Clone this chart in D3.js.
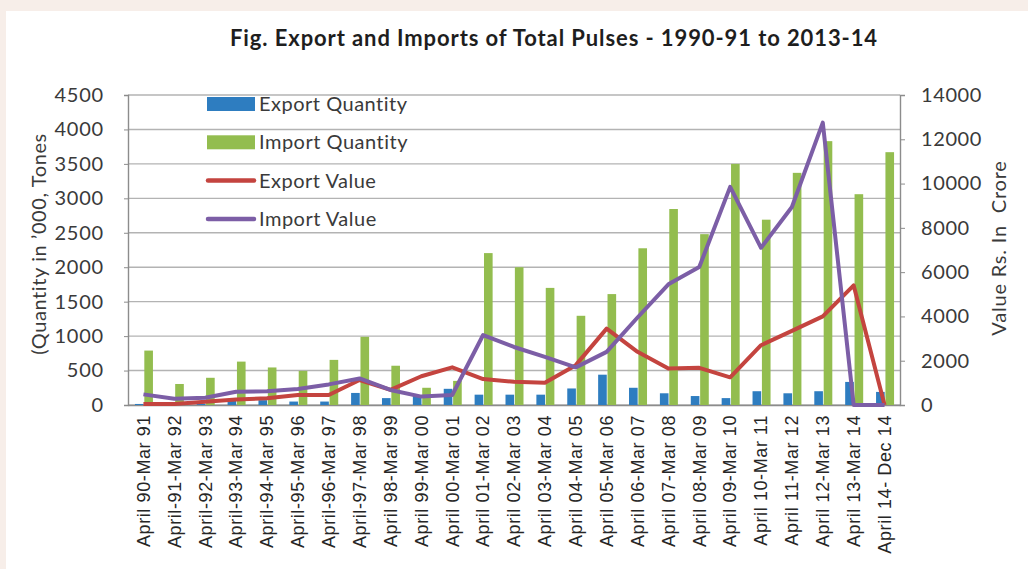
<!DOCTYPE html>
<html>
<head>
<meta charset="utf-8">
<script src="https://cdn.jsdelivr.net/npm/d3@7"></script>
<style>
  body { margin: 0; background: #fff; }
  svg { display: block; }
</style>
</head>
<body>
<div id="chart"></div>
<script>
var width = 1028,
    height = 569;

var periods = ["April 90-Mar 91", "April-91-Mar 92", "April-92-Mar 93", "April-93-Mar 94",
  "April-94-Mar 95", "April-95-Mar 96", "April-96-Mar 97", "April-97-Mar 98", "April 98-Mar 99",
  "April 99-Mar 00", "April 00-Mar 01", "April 01-Mar 02", "April 02-Mar 03", "April 03-Mar 04",
  "April 04-Mar 05", "April 05-Mar 06", "April 06-Mar 07", "April 07-Mar 08", "April 08-Mar 09",
  "April 09-Mar 10", "April 10-Mar 11", "April 11-Mar 12", "April 12-Mar 13", "April 13-Mar 14",
  "April 14- Dec 14"];

// quantity ('000 tonnes), left axis
var exportQty = [15, 10, 20, 60, 70, 50, 50, 175, 100, 145, 235, 150, 150, 150, 240, 440, 250, 170, 130, 100, 200, 170, 200, 335, 190];
var importQty = [790, 305, 395, 630, 545, 495, 655, 990, 570, 250, 350, 2205, 2000, 1700, 1295, 1610, 2275, 2845, 2480, 3500, 2690, 3370, 3830, 3060, 3670];

// value (Rs. crore), right axis
var exportVal = [50, 50, 150, 250, 300, 450, 450, 1130, 680, 1300, 1700, 1170, 1050, 1000, 1800, 3450, 2400, 1650, 1680, 1250, 2700, 3350, 4000, 5400, 0];
var importVal = [480, 280, 330, 600, 620, 720, 930, 1200, 680, 380, 450, 3160, 2620, 2170, 1700, 2400, 3950, 5450, 6230, 9850, 7100, 8940, 12750, 0, 0];

var leftTicks = [0, 500, 1000, 1500, 2000, 2500, 3000, 3500, 4000, 4500];
var rightTicks = [0, 2000, 4000, 6000, 8000, 10000, 12000, 14000];

var seriesNames = ["Export Quantity", "Import Quantity", "Export Value", "Import Value"];
var colors = { exp: "#2e7dc0", imp: "#93bd4f", expVal: "#c4443f", impVal: "#7c5ea6" };

var svg = d3.select("#chart").append("svg")
    .attr("width", width)
    .attr("height", height);

// pinkish page frame like the scanned original
svg.append("rect").attr("x", 0).attr("y", 0).attr("width", width).attr("height", height).attr("fill", "#f7eee9");
svg.append("rect").attr("x", 6).attr("y", 11).attr("width", width - 6).attr("height", height - 11).attr("fill", "#fff");

var x = d3.scaleBand().domain(periods).range([128, 900]).padding(0);
var sub = d3.scaleBand().domain(["exp", "imp"]).range([-8.5, 9.5]).paddingInner(0.08);
var yL = d3.scaleLinear().domain([0, 4500]).range([405, 95]);
var yR = d3.scaleLinear().domain([0, 14000]).range([405, 95]);

function cx(d) { return x(d) + x.bandwidth() / 2; }

// title
svg.append("text")
    .attr("x", 554)
    .attr("y", 46)
    .attr("text-anchor", "middle")
    .style("font-family", "Lato")
    .style("font-weight", "bold")
    .style("font-size", "22px")
    .style("letter-spacing", "0.9px")
    .style("fill", "#1e1e1e")
    .text("Fig. Export and Imports of Total Pulses - 1990-91 to 2013-14");

// gridlines
svg.append("g")
    .selectAll("line")
    .data(leftTicks)
    .enter().append("line")
    .attr("x1", 128).attr("x2", 900)
    .attr("y1", d => yL(d)).attr("y2", d => yL(d))
    .attr("stroke", "#b3b3b3")
    .attr("stroke-width", 1.4);

// left axis
var gL = svg.append("g")
    .attr("transform", "translate(128,0)")
    .call(d3.axisLeft(yL).tickValues(leftTicks).tickFormat(d3.format("d")).tickSize(4).tickPadding(20));
gL.select(".domain").attr("stroke", "#8c8c8c").attr("stroke-width", 1.4);
gL.selectAll(".tick line").attr("stroke", "#8c8c8c");
gL.selectAll(".tick text")
    .style("font-family", "Lato")
    .style("font-size", "20px")
    .style("letter-spacing", "0.8px")
    .style("fill", "#3a3a3a");

// right axis
var gR = svg.append("g")
    .attr("transform", "translate(900,0)")
    .call(d3.axisRight(yR).tickValues(rightTicks).tickFormat(d3.format("d")).tickSize(5).tickPadding(16));
gR.select(".domain").attr("stroke", "#8c8c8c").attr("stroke-width", 1.4);
gR.selectAll(".tick line").attr("stroke", "#8c8c8c");
gR.selectAll(".tick text")
    .style("font-family", "Lato")
    .style("font-size", "20px")
    .style("letter-spacing", "0.6px")
    .style("fill", "#3a3a3a");

// bottom axis
var gB = svg.append("g")
    .attr("transform", "translate(0,405)")
    .call(d3.axisBottom(x).tickSize(0).tickPadding(0));
gB.select(".domain").attr("stroke", "#8c8c8c").attr("stroke-width", 1.4);
gB.selectAll(".tick text")
    .attr("transform", "rotate(-90)")
    .attr("x", -10)
    .attr("y", 0)
    .attr("dy", "0.35em")
    .style("text-anchor", "end")
    .style("font-family", "Liberation Sans")
    .style("font-size", "18px")
    .style("letter-spacing", "0.6px")
    .style("fill", "#262626");

// axis titles
svg.append("text")
    .attr("transform", "translate(46,244) rotate(-90)")
    .attr("text-anchor", "middle")
    .style("font-family", "Lato")
    .style("font-size", "20px")
    .style("letter-spacing", "0.6px")
    .style("fill", "#3a3a3a")
    .text("(Quantity in \u2019000, Tones");

svg.append("text")
    .attr("transform", "translate(1006,248) rotate(-90)")
    .attr("text-anchor", "middle")
    .style("font-family", "Lato")
    .style("font-size", "20px")
    .style("letter-spacing", "0.8px")
    .style("fill", "#3a3a3a")
    .style("white-space", "pre")
    .text("Value Rs. In  Crore");

// bars
var bars = svg.append("g");
bars.selectAll("rect.exp")
    .data(exportQty)
    .enter().append("rect")
    .attr("class", "exp")
    .attr("x", (d, i) => cx(periods[i]) + sub("exp"))
    .attr("width", sub.bandwidth())
    .attr("y", d => yL(d))
    .attr("height", d => yL(0) - yL(d))
    .attr("fill", colors.exp);

bars.selectAll("rect.imp")
    .data(importQty)
    .enter().append("rect")
    .attr("class", "imp")
    .attr("x", (d, i) => cx(periods[i]) + sub("imp"))
    .attr("width", sub.bandwidth())
    .attr("y", d => yL(d))
    .attr("height", d => yL(0) - yL(d))
    .attr("fill", colors.imp);

// lines
var line = d3.line()
    .x((d, i) => cx(periods[i]))
    .y(d => yR(d));

svg.append("path")
    .datum(exportVal)
    .attr("d", line)
    .attr("fill", "none")
    .attr("stroke", colors.expVal)
    .attr("stroke-width", 4)
    .attr("stroke-linejoin", "round");

svg.append("path")
    .datum(importVal)
    .attr("d", line)
    .attr("fill", "none")
    .attr("stroke", colors.impVal)
    .attr("stroke-width", 4)
    .attr("stroke-linejoin", "round");

// legend
var legend = svg.append("g")
    .selectAll("g")
    .data(seriesNames)
    .enter().append("g")
    .attr("transform", (d, i) => "translate(207," + (104 + i * 38.3) + ")");

legend.each(function (d, i) {
    var g = d3.select(this);
    if (i < 2) {
        g.append("rect")
            .attr("x", 0).attr("y", -7)
            .attr("width", 48).attr("height", 14)
            .attr("fill", i == 0 ? colors.exp : colors.imp);
    } else {
        g.append("line")
            .attr("x1", 1).attr("x2", 47)
            .attr("stroke", i == 2 ? colors.expVal : colors.impVal)
            .attr("stroke-width", 4.5)
            .attr("stroke-linecap", "round");
    }
    g.append("text")
        .attr("x", 52)
        .attr("dy", "0.35em")
        .style("font-family", "Lato")
        .style("font-size", "20px")
        .style("letter-spacing", "0.5px")
        .style("fill", "#3a3a3a")
        .text(d);
});
</script>
</body>
</html>
